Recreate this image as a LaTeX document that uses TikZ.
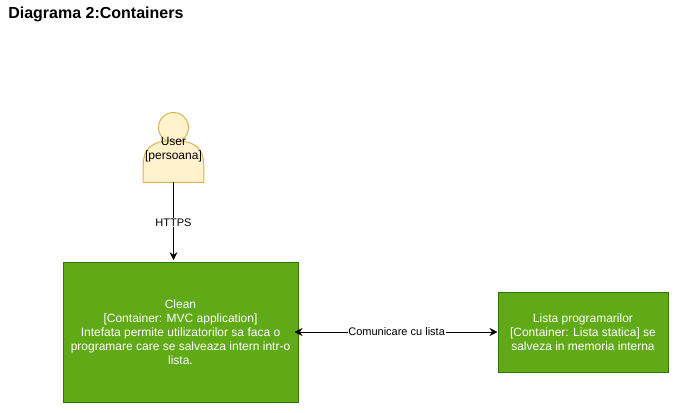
\documentclass[tikz,border=0pt]{standalone}
\usepackage{fontspec}
\setmainfont{Liberation Sans}
\usepackage{xcolor}
\usepackage{tikz}
\usetikzlibrary{arrows.meta, positioning}
\definecolor{mygreen}{RGB}{96,169,23}
\definecolor{mydarkgreen}{RGB}{45,118,0}
\definecolor{myuser}{RGB}{255,242,204}
\definecolor{myuserline}{RGB}{214,182,86}
\tikzset{
  title/.style={font=\fontsize{12}{14}\selectfont\bfseries, inner sep=0pt, anchor=west},
  container/.style={rectangle, draw=mydarkgreen, fill=mygreen, text=white, align=center,
    font=\fontsize{9}{10.5}\selectfont, line width=0.75pt, inner sep=0pt},
  userhead/.style={circle, draw=myuserline, fill=myuser, minimum size=22.5pt,
    inner sep=0pt, line width=0.75pt},
  userbody/.style={rectangle, minimum width=45pt, minimum height=30.75pt, inner sep=0pt,
    align=center, font=\fontsize{9}{10.5}\selectfont},
  edgelabel/.style={fill=white, font=\fontsize{8.25}{10}\selectfont, inner sep=0.5pt},
  arrow/.style={-{Stealth[length=6pt,width=6pt]}, line width=0.75pt, color=black},
  biarrow/.style={{Stealth[length=6pt,width=6pt]}-{Stealth[length=6pt,width=6pt]}, line width=0.75pt, color=black}
}
\begin{document}
\begin{tikzpicture}[x=0.75pt, y=-0.75pt]
  \useasboundingbox (0,0) rectangle (676,412);
  \node[title] (diagtitle) at (8,14) {Diagrama 2:Containers};
  \node[container, minimum width=176.25pt, minimum height=105pt] (clean) at (180.5,332)
    {Clean\\{[Container: MVC application]}\\Intefata permite utilizatorilor sa faca o\\programare care se salveaza intern intr-o\\lista.};
  \node[container, minimum width=127.5pt, minimum height=60pt, right=149.25pt of clean] (lista)
    {Lista programarilor\\{[Container: Lista statica]} se\\salveza in memoria interna};
  \node[userhead] (head) at (173.5,127.5) {};
  \node[userbody] (user) at (173.5,161.5) {};

  \draw[draw=myuserline, fill=myuser, line width=0.75pt]
    (user.south west) -- ([yshift=12.75pt]user.south west)
    .. controls ([yshift=25.5pt]user.south west) and ([xshift=6.4pt]user.north west) .. (user.north)
    .. controls ([xshift=-6.4pt]user.north east) and ([yshift=25.5pt]user.south east) .. ([yshift=12.75pt]user.south east)
    -- (user.south east) -- cycle;
  \node[align=center, font=\fontsize{9}{10.5}\selectfont, inner sep=0pt] (usertext) at (173.5,149.5) {User\\{[persoana]}};

  \draw[arrow, shorten >=1pt] (user.south) -- node[edgelabel, yshift=-0.5pt] (https) {HTTPS} (user.south |- clean.north);
  \draw[biarrow, shorten <=-3pt] (clean.east) -- node[edgelabel, pos=0.493] (comm) {Comunicare cu lista} (lista.west);
\end{tikzpicture}
\end{document}
